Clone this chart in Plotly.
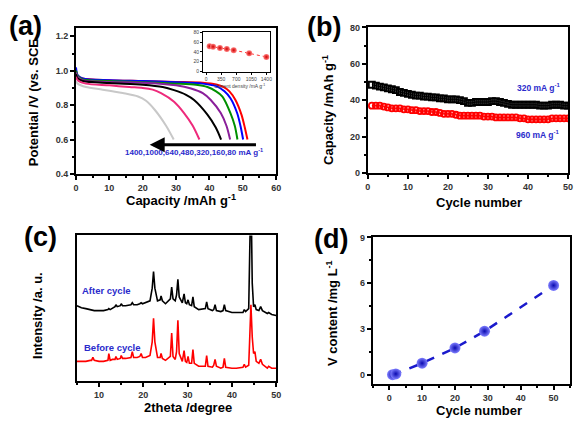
import plotly.graph_objects as go

W, H = 576, 422

# ---------------- Panel (a): discharge curves ----------------
RATE_LABELS = ["80", "160", "320", "480", "640", "1000", "1400"]
RATE_COLORS = ["#ff0000", "#0000ff", "#009000", "#8a1f9a", "#000000", "#ee2a7b", "#c8c8c8"]
CAP_80 = [0, 0.5, 2, 10, 20, 30, 38, 42, 44.3, 46, 47.8, 49.6, 50.6, 51.4]
POT_80 = [1.0, 0.97, 0.955, 0.945, 0.94, 0.935, 0.93, 0.92, 0.905, 0.88, 0.83, 0.745, 0.67, 0.6]
CAP_160 = [0, 0.5, 2, 10, 20, 30, 38, 42.4, 44.5, 46.3, 48.3, 49.3, 50.1]
POT_160 = [1.02, 0.975, 0.955, 0.945, 0.94, 0.933, 0.925, 0.908, 0.88, 0.84, 0.754, 0.68, 0.6]
CAP_320 = [0, 0.5, 2, 10, 20, 30, 36, 39.4, 42, 43.9, 46.3, 47.6, 48.4]
POT_320 = [1.0, 0.97, 0.95, 0.94, 0.933, 0.925, 0.918, 0.905, 0.88, 0.85, 0.754, 0.68, 0.6]
CAP_480 = [0, 0.5, 2, 10, 20, 30, 34.5, 38, 40.4, 43.4, 45.1, 46.2]
POT_480 = [0.99, 0.965, 0.945, 0.935, 0.93, 0.915, 0.897, 0.87, 0.83, 0.754, 0.68, 0.6]
CAP_640 = [0, 0.5, 2, 10, 20, 26, 29.4, 33, 35.4, 39.4, 41.9, 43.5]
POT_640 = [0.98, 0.955, 0.94, 0.928, 0.918, 0.905, 0.887, 0.86, 0.83, 0.745, 0.67, 0.6]
CAP_1000 = [0, 0.5, 3, 10, 16, 20, 23, 25.5, 29.4, 32.4, 35, 37]
POT_1000 = [0.965, 0.945, 0.925, 0.915, 0.905, 0.9, 0.89, 0.87, 0.82, 0.754, 0.68, 0.6]
CAP_1400 = [0, 0.5, 3, 8, 14, 18.6, 21, 23.6, 27, 29.3]
POT_1400 = [0.94, 0.925, 0.905, 0.89, 0.87, 0.85, 0.825, 0.773, 0.68, 0.6]
CAPS = [CAP_80, CAP_160, CAP_320, CAP_480, CAP_640, CAP_1000, CAP_1400]
POTS = [POT_80, POT_160, POT_320, POT_480, POT_640, POT_1000, POT_1400]

# inset of (a)
INSET_CURRENT = [80, 160, 320, 480, 640, 1000, 1400]
INSET_CAPACITY = [51.5, 50.5, 48, 46, 43.5, 37, 29.5]

# ---------------- Panel (b): cycling ----------------
CYCLES = list(range(1, 51))
CAP_320_CYC = [48.5, 48, 47.5, 47, 46.5, 46, 45.5, 44.5, 44, 43.5,
               43, 42.5, 42.5, 42, 42, 41.5, 41.5, 41, 41, 40.5,
               40.5, 40.5, 40, 39.5, 38.5, 38.5, 39, 39, 39, 39,
               39.5, 39.5, 39, 38.5, 38, 37.5, 37.5, 37.5, 37.5, 37.5,
               37.5, 37.5, 37, 37, 37, 37.5, 37.5, 37.5, 37, 37]
CAP_960_CYC = [37, 37, 37, 36.5, 36, 35.5, 35.5, 35.5, 35, 35,
               34.5, 34.5, 34, 34, 34, 33.5, 33.5, 33, 32.5, 32.5,
               32.5, 32, 31.5, 31.5, 31.5, 31.5, 31.5, 31.5, 31, 31,
               31, 30.5, 30.5, 30.5, 30.5, 30.5, 30.5, 30, 30, 29.5,
               29.5, 29.5, 29.5, 29.5, 29.5, 30, 30, 30, 30, 30]

# ---------------- Panel (c): XRD ----------------
XRD_2THETA = [5, 6, 7, 8, 8.3, 8.6, 8.9, 10, 11, 12,
              12.2, 12.5, 13, 13.6, 13.8, 14.1, 14.8, 15.0, 15.3, 16,
              17.2, 17.5, 17.8, 18.6, 19.2, 19.5, 19.8, 20.5, 21.5, 22.0,
              22.3, 22.6, 23.2, 23.8, 24.0, 24.3, 25, 26.1, 26.4, 26.7,
              27.2, 27.5, 27.8, 28.1, 28.8, 29.2, 29.5, 29.8, 30.1, 30.4,
              30.9, 31.2, 31.5, 32.5, 34.0, 34.3, 34.6, 35.6, 35.9, 36.2,
              36.5, 37.5, 38.0, 38.3, 38.6, 40, 41, 42.5, 42.8, 43.1,
              43.8, 44.0, 44.3, 44.6, 44.9, 45.2, 45.5, 46.1, 46.5, 46.9,
              47.6, 48.0, 48.3, 49, 50]
XRD_AFTER = [77, 75, 74, 73, 73, 73, 72, 72, 72, 73,
             74, 73, 74, 76, 78, 76, 77, 79, 77, 77,
             78, 80, 78, 78, 79, 80, 79, 80, 82, 95,
             112, 95, 82, 83, 87, 82, 79, 84, 96, 84,
             82, 88, 104, 86, 80, 89, 80, 79, 83, 78,
             77, 86, 76, 73, 74, 81, 74, 72, 73, 78,
             72, 71, 72, 78, 72, 70, 70, 70, 73, 71,
             74, 100, 200, 100, 76, 78, 73, 72, 76, 72,
             70, 69, 70, 68, 67]
XRD_BEFORE = [20, 20, 20, 21, 21, 24, 21, 20, 20, 21,
              28, 21, 22, 22, 25, 22, 23, 26, 23, 23,
              24, 30, 24, 24, 25, 28, 24, 24, 26, 40,
              64, 40, 24, 24, 28, 23, 21, 25, 49, 25,
              22, 30, 62, 28, 20, 31, 20, 19, 25, 18,
              18, 32, 18, 15, 15, 26, 15, 14, 16, 22,
              15, 13, 14, 23, 14, 13, 13, 14, 17, 14,
              16, 40, 78, 45, 28, 30, 20, 18, 22, 17,
              15, 13, 15, 13, 13]

# ---------------- Panel (d): V content ----------------
V_CYCLE = [1, 2, 10, 20, 29, 50]
V_CONTENT = [0.0, 0.05, 0.75, 1.75, 2.85, 5.85]

FONT = "Liberation Sans, Arial, sans-serif"
BLUE_TXT = "#2b2bcc"

fig = go.Figure()

for cap, pot, col, lab in zip(CAPS, POTS, RATE_COLORS, RATE_LABELS):
    fig.add_trace(go.Scatter(x=cap, y=pot, mode="lines", name=lab,
                             line=dict(color=col, width=2, shape="spline", smoothing=0.8),
                             xaxis="x", yaxis="y", showlegend=False))

fig.add_trace(go.Scatter(x=INSET_CURRENT, y=INSET_CAPACITY, mode="lines+markers",
                         line=dict(color="#ff3030", width=1, dash="dot"),
                         marker=dict(size=6, color="#ff8080",
                                     gradient=dict(type="radial", color="#d00000"),
                                     line=dict(width=0)),
                         xaxis="x5", yaxis="y5", showlegend=False))

fig.add_trace(go.Scatter(x=CYCLES, y=CAP_320_CYC, mode="lines+markers",
                         line=dict(color="black", width=1),
                         marker=dict(symbol="square-open", size=6, color="black", line=dict(width=1.8)),
                         xaxis="x2", yaxis="y2", showlegend=False))
fig.add_trace(go.Scatter(x=CYCLES, y=CAP_960_CYC, mode="lines+markers",
                         line=dict(color="red", width=1),
                         marker=dict(symbol="circle-open", size=6, color="red", line=dict(width=1.8)),
                         xaxis="x2", yaxis="y2", showlegend=False))

fig.add_trace(go.Scatter(x=XRD_2THETA, y=XRD_AFTER, mode="lines",
                         line=dict(color="black", width=1.6),
                         xaxis="x3", yaxis="y3", showlegend=False))
fig.add_trace(go.Scatter(x=XRD_2THETA, y=XRD_BEFORE, mode="lines",
                         line=dict(color="red", width=1.6),
                         xaxis="x3", yaxis="y3", showlegend=False))

fig.add_trace(go.Scatter(x=V_CYCLE, y=V_CONTENT, mode="lines+markers",
                         line=dict(color="#1a1acc", width=2.5, dash="dash"),
                         marker=dict(size=11, color="#8080ff",
                                     gradient=dict(type="radial", color="#0a0ab0"),
                                     line=dict(width=0)),
                         xaxis="x4", yaxis="y4", showlegend=False))


def px_x(p):
    return p / W


def px_y(p):
    return 1 - p / H


def ax_style(**kw):
    d = dict(showline=True, linecolor="black", linewidth=2, mirror=True,
             ticks="outside", ticklen=4, tickwidth=1.5, tickcolor="black",
             showgrid=False, zeroline=False,
             tickfont=dict(family=FONT, size=9, color="#333333", weight="bold"),
             minor=dict(ticks="outside", ticklen=2, tickwidth=1.2, tickcolor="black"))
    d.update(kw)
    return d


layout = dict(
    width=W, height=H, margin=dict(l=0, r=0, t=0, b=0),
    paper_bgcolor="white", plot_bgcolor="white", showlegend=False,
    xaxis=ax_style(domain=[px_x(74), px_x(277)], anchor="y", range=[0, 60], dtick=10,
                   minor=dict(ticks="outside", ticklen=2, dtick=5, tickcolor="black")),
    yaxis=ax_style(domain=[px_y(173), px_y(24)], anchor="x", range=[0.4, 1.246],
                   tickvals=[0.4, 0.6, 0.8, 1.0, 1.2], ticktext=["0.4", "0.6", "0.8", "1.0", "1.2"],
                   minor=dict(ticks="outside", ticklen=2, dtick=0.1, tickcolor="black")),
    xaxis2=ax_style(domain=[px_x(370), px_x(573)], anchor="y2", range=[0, 50], dtick=10,
                    minor=dict(ticks="outside", ticklen=2, dtick=5, tickcolor="black")),
    yaxis2=ax_style(domain=[px_y(172), px_y(23)], anchor="x2", range=[0, 80], dtick=20,
                    minor=dict(ticks="outside", ticklen=2, dtick=10, tickcolor="black")),
    xaxis3=ax_style(domain=[px_x(75), px_x(277)], anchor="y3", range=[5, 50], dtick=10, tick0=0,
                    minor=dict(ticks="outside", ticklen=2, dtick=5, tickcolor="black")),
    yaxis3=ax_style(domain=[px_y(385), px_y(236)], anchor="x3", range=[0, 149],
                    showticklabels=False, ticks="", minor=dict(ticks="")),
    xaxis4=ax_style(domain=[px_x(375), px_x(575)], anchor="y4", range=[-5, 55], dtick=10, tick0=0,
                    minor=dict(ticks="outside", ticklen=2, dtick=5, tickcolor="black")),
    yaxis4=ax_style(domain=[px_y(388), px_y(238)], anchor="x4", range=[-0.6, 9], dtick=3, tick0=0,
                    minor=dict(ticks="outside", ticklen=2, dtick=1.5, tickcolor="black")),
    xaxis5=ax_style(domain=[px_x(203), px_x(271)], anchor="y5", range=[-70, 1490],
                    tickvals=[0, 350, 700, 1050, 1400], linewidth=1.2, ticklen=2, tickwidth=0.8,
                    tickfont=dict(family=FONT, size=5, color="#444444"),
                    minor=dict(ticks="")),
    yaxis5=ax_style(domain=[px_y(69), px_y(28)], anchor="x5", range=[-2, 80],
                    tickvals=[0, 20, 40, 60, 80], linewidth=1.2, ticklen=2, tickwidth=0.8,
                    tickfont=dict(family=FONT, size=5, color="#444444"),
                    minor=dict(ticks="")),
)

ann = []


def label(text, xpx, ypx, size=13, color="black", angle=0, weight="bold"):
    ann.append(dict(text=text, x=px_x(xpx), y=px_y(ypx), xref="paper", yref="paper",
                    showarrow=False, textangle=angle, xanchor="center", yanchor="middle",
                    font=dict(family=FONT, size=size, color=color, weight=weight)))


# panel labels
label("(a)", 23, 22, size=27)
label("(b)", 326, 23, size=27)
label("(c)", 38, 238, size=27)
label("(d)", 333, 240, size=27)

# axis titles
label("Capacity /mAh g<sup>-1</sup>", 181, 200)
label("Potential /V (vs. SCE", 31, 100, angle=-90)
label("Cycle number", 483, 202)
label("Capacity /mAh g<sup>-1</sup>", 330, 107, angle=-90)
label("2theta /degree", 188, 412)
label("Intensity /a. u.", 35, 318, angle=-90)
label("Cycle number", 483, 415)
label("V content /mg L<sup>-1</sup>", 333, 315, angle=-90)
label("Current density /mA g<sup>-1</sup>", 240, 83, size=5, color="#444444", weight="normal")

# in-plot texts
label("1400,1000,640,480,320,160,80 mA g<sup>-1</sup>", 194, 151, size=8, color=BLUE_TXT)
label("320 mA g<sup>-1</sup>", 543, 85, size=8.5, color=BLUE_TXT)
label("960 mA g<sup>-1</sup>", 542, 133, size=8.5, color=BLUE_TXT)
label("After cycle", 105, 292, size=9.5, color=BLUE_TXT)
label("Before cycle", 111, 351, size=9.5, color=BLUE_TXT)

# arrow in (a)
ann.append(dict(x=22.1, y=0.57, ax=54.4, ay=0.57, xref="x", yref="y", axref="x", ayref="y",
                showarrow=True, arrowhead=2, arrowsize=1, arrowwidth=3, arrowcolor="black", text=""))

layout["annotations"] = ann
fig.update_layout(**layout)

fig.write_html("out.html", config={"displayModeBar": False},
               post_script="document.body.style.margin='0';document.body.style.padding='0';"
                           "document.body.style.overflow='hidden';")
